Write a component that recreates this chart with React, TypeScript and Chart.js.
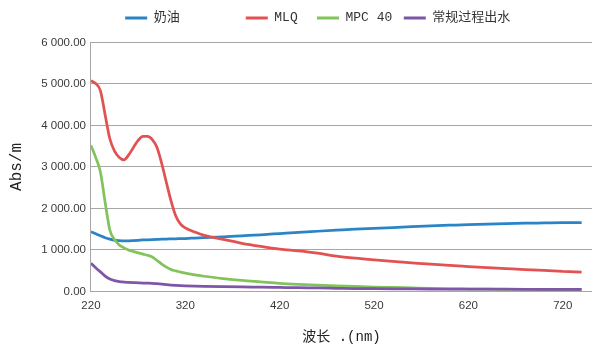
import { useEffect, useRef } from 'react';
import { Chart, registerables } from 'chart.js';

Chart.register(...registerables);

// wavelength (nm)
const wavelengths = [
  220, 225, 230, 235, 240, 245, 250, 255, 260, 265, 270, 275, 280, 285, 290, 295,
  300, 305, 310, 315, 320, 330, 340, 360, 380, 400, 420, 440, 460, 480, 500, 520,
  540, 560, 580, 600, 620, 640, 660, 680, 700, 720, 740,
];

const seriesNames = ['奶油', 'MLQ', 'MPC 40', '常规过程出水'];

const butter = [
  1440, 1390, 1340, 1295, 1260, 1235, 1225, 1220, 1220, 1225, 1232, 1240, 1245, 1250, 1255, 1260,
  1262, 1265, 1268, 1272, 1275, 1285, 1295, 1315, 1340, 1365, 1395, 1425, 1450, 1475, 1500, 1520,
  1540, 1560, 1580, 1595, 1610, 1620, 1635, 1645, 1650, 1655, 1655,
];

const mlq = [
  5080, 5010, 4840, 4260, 3680, 3380, 3230, 3170, 3290, 3470, 3640, 3735, 3735, 3660, 3470, 3080,
  2620, 2170, 1810, 1620, 1530, 1430, 1350, 1255, 1160, 1085, 1020, 975, 920, 850, 800, 760,
  725, 690, 655, 625, 600, 575, 550, 525, 505, 485, 465,
];

const mpc40 = [
  3520, 3230, 2880, 2150, 1480, 1250, 1120, 1050, 995, 960, 930, 900, 870, 830, 745, 660,
  585, 525, 495, 465, 440, 400, 365, 310, 265, 230, 195, 170, 150, 135, 120, 105,
  95, 85, 75, 62, 57, 53, 50, 47, 44, 42, 40,
];

const processWater = [
  680, 570, 470, 370, 300, 260, 235, 225, 218, 212, 207, 202, 198, 193, 185, 175,
  163, 153, 146, 140, 135, 128, 123, 115, 108, 102, 95, 88, 82, 75, 68, 64,
  61, 59, 57, 55, 54, 53, 52, 51, 50, 49, 48,
];

const seriesValues = [butter, mlq, mpc40, processWater];
const seriesColors = ['#2a84c6', '#e25252', '#82c35b', '#7d56a8'];
const drawOrder = [4, 3, 2, 1];
const legendTrailingSpaces = [7, 1, 0, 9];
const legendExtraHeight = 8;

const xTickValues = [220, 320, 420, 520, 620, 720];
const xMin = 220;
const xMax = 751;
const yMin = 0;
const yMax = 6000;
const yStep = 1000;

const xTitle = '波长 .(nm)';
const yTitle = 'Abs/m';

function formatY(v: number): string {
  const s = Number(v).toFixed(2);
  const [i, d] = s.split('.');
  return i.replace(/\B(?=(\d{3})+(?!\d))/g, ' ') + '.' + d;
}

const serifMix = '"Liberation Mono", "Noto Sans CJK SC", monospace';
const sans = '"Liberation Sans", Arial, sans-serif';

const legendGapPlugin = {
  id: 'legendGap',
  beforeInit(chart: any) {
    const lg = chart.legend;
    if (!lg) return;
    const orig = lg.fit;
    lg.fit = function () {
      orig.call(this);
      this.height += legendExtraHeight;
    };
  },
};

export default function App() {
  const canvasRef = useRef<HTMLCanvasElement | null>(null);

  useEffect(() => {
    document.body.style.margin = '0';
    const canvas = canvasRef.current;
    if (!canvas) return;

    const datasets = seriesNames.map((name, i) => ({
      label: name,
      data: wavelengths.map((w, j) => ({ x: w, y: seriesValues[i][j] })),
      borderColor: seriesColors[i],
      backgroundColor: seriesColors[i],
      borderWidth: 2.75,
      pointRadius: 0,
      cubicInterpolationMode: 'monotone' as const,
      fill: false,
      order: drawOrder[i],
    }));

    const chart = new Chart(canvas, {
      type: 'line',
      data: { datasets },
      plugins: [legendGapPlugin],
      options: {
        animation: false,
        responsive: false,
        devicePixelRatio: 1,
        layout: { padding: { left: 0, right: 0, top: 0, bottom: 0 } },
        plugins: {
          tooltip: { enabled: false },
          legend: {
            position: 'top',
            align: 'end',
            labels: {
              boxWidth: 22,
              boxHeight: 3,
              padding: 11.5,
              color: '#333333',
              font: { family: serifMix, size: 13 },
              sort: (a: any, b: any) => a.datasetIndex - b.datasetIndex,
              generateLabels: (ch: any) =>
                ch.data.datasets.map((ds: any, i: number) => ({
                  text: ds.label + ' '.repeat(legendTrailingSpaces[i]),
                  fillStyle: ds.borderColor,
                  strokeStyle: ds.borderColor,
                  lineWidth: 0,
                  hidden: false,
                  datasetIndex: i,
                  fontColor: '#333333',
                })),
            },
          },
        },
        scales: {
          x: {
            type: 'linear',
            min: xMin,
            max: xMax,
            afterBuildTicks: (axis: any) => {
              axis.ticks = xTickValues.map((v) => ({ value: v }));
            },
            ticks: {
              color: '#3a3a3a',
              font: { family: sans, size: 11.5 },
              padding: 8,
              maxRotation: 0,
              callback: (v: any) => String(v),
            },
            grid: { display: false, drawTicks: false },
            border: { display: true, color: '#a6a6a6', width: 1 },
            title: {
              display: true,
              text: xTitle,
              color: '#222222',
              font: { family: serifMix, size: 14 },
              padding: { top: 8, bottom: 2 },
            },
          },
          y: {
            type: 'linear',
            min: yMin,
            max: yMax,
            ticks: {
              stepSize: yStep,
              color: '#3a3a3a',
              font: { family: sans, size: 11.5 },
              padding: 5,
              callback: (v: any) => formatY(v),
            },
            grid: { color: '#a6a6a6', lineWidth: 1, drawTicks: false },
            border: { display: true, color: '#a6a6a6', width: 1 },
            title: {
              display: true,
              text: yTitle,
              color: '#222222',
              font: { family: serifMix, size: 16 },
              padding: { top: 7, bottom: 10 },
            },
          },
        },
      },
    });

    return () => chart.destroy();
  }, []);

  return (
    <div style={{ width: 592, height: 348 }}>
      <canvas ref={canvasRef} width={592} height={348} style={{ display: 'block' }} />
    </div>
  );
}
